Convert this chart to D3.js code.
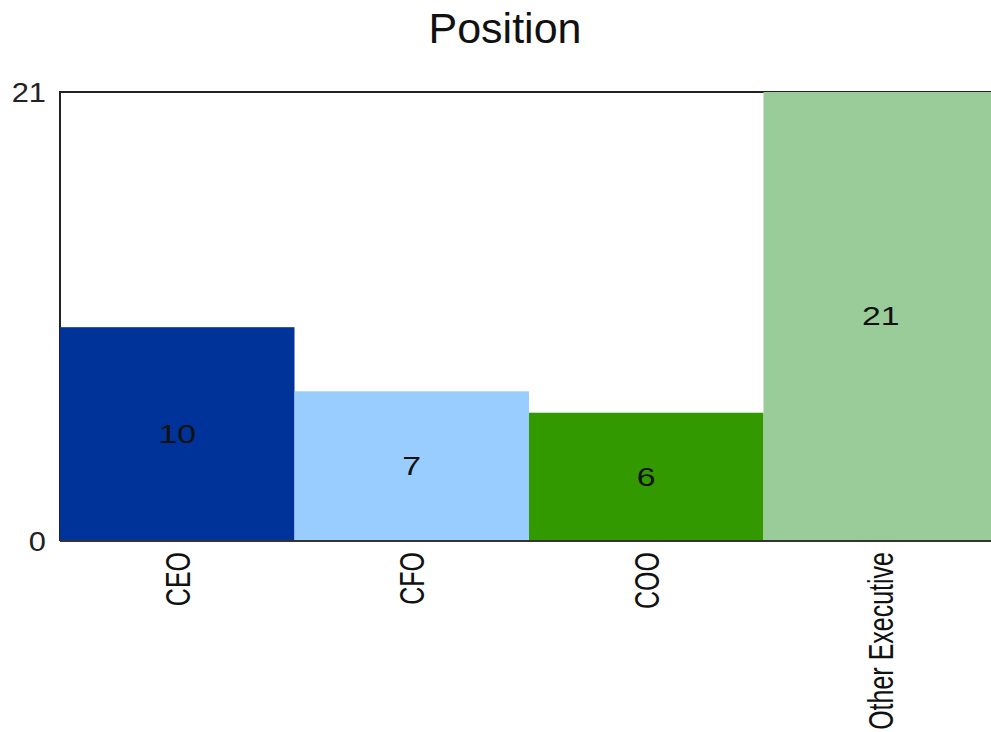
<!DOCTYPE html>
<html>
<head>
<meta charset="utf-8">
<script src="https://cdn.jsdelivr.net/npm/d3@7"></script>
<style>
  body { margin: 0; background: #fff; }
  svg { display: block; font-family: "Liberation Sans", Arial, sans-serif; }
</style>
</head>
<body>
<svg id="chart" width="991" height="732"></svg>
<script>
const categories = ["CEO", "CFO", "COO", "Other Executive"];
const counts = [10, 7, 6, 21];
const yTicks = [0, 21];
const title = "Position";

const svg = d3.select("#chart");
const margin = {left: 60, right: -7, top: 92, bottom: 191};
const width = +svg.attr("width"), height = +svg.attr("height");

const x = d3.scaleBand()
  .domain(categories)
  .range([margin.left, width - margin.right])
  .padding(0);

const y = d3.scaleLinear()
  .domain([0, d3.max(yTicks)])
  .range([height - margin.bottom, margin.top]);

const color = d3.scaleOrdinal()
  .domain(categories)
  .range(["#003399", "#99ccff", "#339900", "#99cc99"]);

const data = categories.map((c, i) => ({cat: c, value: counts[i]}));

// title
svg.append("text")
  .attr("x", 505)
  .attr("y", 43)
  .attr("text-anchor", "middle")
  .style("font-size", "43px")
  .attr("fill", "#111")
  .text(title);

// frame (left + top)
svg.append("path")
  .attr("d", `M${x.range()[0]},${y(0)}V${y(21)}H${x.range()[1]}`)
  .attr("fill", "none")
  .attr("stroke", "#222")
  .attr("stroke-width", 2);

// bars
svg.selectAll("rect.bar")
  .data(data)
  .join("rect")
  .attr("class", "bar")
  .attr("x", d => x(d.cat))
  .attr("y", d => y(d.value))
  .attr("width", x.bandwidth())
  .attr("height", d => y(0) - y(d.value))
  .attr("fill", d => color(d.cat));

// baseline
svg.append("line")
  .attr("x1", x.range()[0]).attr("x2", x.range()[1])
  .attr("y1", y(0)).attr("y2", y(0))
  .attr("stroke", "#333")
  .attr("stroke-width", 2);

// value labels
svg.selectAll("text.val")
  .data(data)
  .join("text")
  .attr("class", "val")
  .attr("transform", d => `translate(${x(d.cat) + x.bandwidth() / 2},${(y(d.value) + y(0)) / 2}) scale(1.35,1)`)
  .attr("text-anchor", "middle")
  .attr("dy", "0.35em")
  .style("font-size", "25px")
  .attr("fill", "#111")
  .text(d => d.value);

// y tick labels
svg.selectAll("text.ytick")
  .data(yTicks)
  .join("text")
  .attr("class", "ytick")
  .attr("transform", d => `translate(46,${y(d)}) scale(1.1,1)`)
  .attr("text-anchor", "end")
  .attr("dy", "0.35em")
  .style("font-size", "28px")
  .attr("fill", "#222")
  .text(d => d);

// category labels
svg.selectAll("text.cat")
  .data(categories)
  .join("text")
  .attr("class", "cat")
  .attr("transform", d => `translate(${x(d) + x.bandwidth() / 2},552) rotate(-90) scale(1,1.4)`)
  .attr("text-anchor", "end")
  .attr("dy", "0.35em")
  .style("font-size", "25px")
  .attr("fill", "#111")
  .text(d => d);
</script>
</body>
</html>
